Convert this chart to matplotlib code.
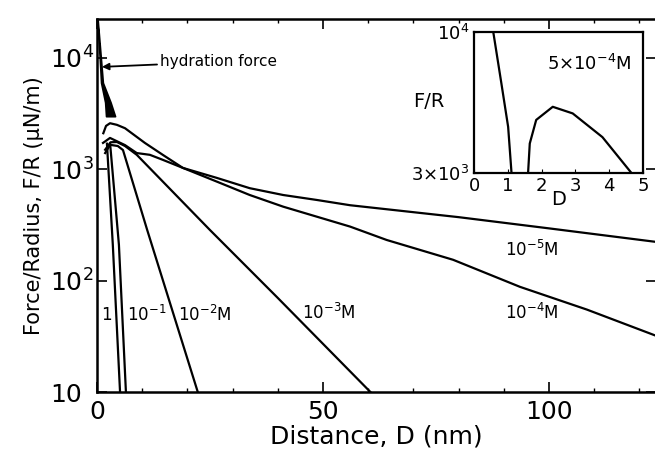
import numpy as np
import matplotlib
matplotlib.use("Agg")
import matplotlib.pyplot as plt
from matplotlib.ticker import FixedLocator, FixedFormatter, MultipleLocator, NullLocator

plt.rcParams['font.family'] = ['DejaVu Sans']
plt.rcParams['mathtext.default'] = 'regular'

# ---- data ----
# hydration force wedge (F values and left/right D edges)
hyd_F = [22000, 10000, 6000, 4000, 3000]
hyd_D_left = [0.05, 0.6, 0.9, 1.8, 2.0]
hyd_D_right = [0.15, 0.85, 1.3, 3.0, 4.0]

# DLVO curves, D in nm, F/R in uN/m
D_1M = [2.2, 3.5, 5.1]
F_1M = [1700, 210, 10]
D_1e1 = [2.9, 4.85, 6.4]
F_1e1 = [1700, 210, 10]
D_1e2 = [1.8, 2.9, 4.6, 5.75, 11.1, 22.3]
F_1e2 = [1400, 1660, 1620, 1490, 286, 10]
D_1e3 = [1.8, 3.0, 4.4, 6.2, 8.8, 25.0, 40.0, 60.5]
F_1e3 = [1500, 1750, 1760, 1620, 1350, 285, 70, 10]
D_1e4 = [1.33, 2.88, 6.2, 8.8, 11.7, 14.6, 19.0, 26.5, 33.8, 41.2, 48.6, 56.0,
         64.1, 78.8, 93.6, 108.4, 123.7]
F_1e4 = [1727, 1914, 1650, 1400, 1350, 1215, 1030, 776, 588, 462, 376, 306,
         232, 154, 88, 55, 32]
D_1e5 = [1.4, 2.0, 2.88, 4.4, 6.2, 10.6, 14.6, 19.0, 26.5, 33.8, 41.2, 48.6,
         56.0, 80.0, 100.0, 123.7]
F_1e5 = [2110, 2455, 2595, 2510, 2340, 1726, 1346, 1030, 838, 677, 588, 531,
         476, 372, 295, 223]

# inset, 5x10^-4 M
inset_D_a = [0.57, 0.81, 1.01, 1.11]
inset_F_a = [10000, 6450, 4450, 3000]
inset_D_b = [1.60, 1.65, 1.84, 2.33, 2.92, 3.80, 4.64]
inset_F_b = [3000, 3860, 4720, 5280, 4990, 4075, 3020]

y_ticks = [10, 100, 1000, 10000]
y_labels = ['10', '$10^2$', '$10^3$', '$10^4$']

# ---- figure ----
fig = plt.figure(figsize=(6.55, 4.59), dpi=100)
ax = fig.add_axes([97 / 655, 67 / 459, 559 / 655, 373 / 459])

lw = 1.6
ax.fill_betweenx(hyd_F, hyd_D_left, hyd_D_right, color='black', lw=1.2)
for d, f in [(D_1M, F_1M), (D_1e1, F_1e1), (D_1e2, F_1e2),
             (D_1e3, F_1e3), (D_1e4, F_1e4), (D_1e5, F_1e5)]:
    ax.plot(d, f, color='black', lw=lw)

ax.set_yscale('log')
ax.set_xlim(0, 123.7)
ax.set_ylim(10, 22400)
ax.yaxis.set_major_locator(FixedLocator(y_ticks))
ax.yaxis.set_major_formatter(FixedFormatter(y_labels))
ax.yaxis.set_minor_locator(NullLocator())
ax.xaxis.set_major_locator(MultipleLocator(50))
ax.xaxis.set_minor_locator(MultipleLocator(10))
ax.tick_params(which='both', direction='in', top=True, right=True)
ax.tick_params(which='major', length=7, width=1.2, labelsize=18, pad=6)
ax.tick_params(which='minor', length=3, width=1.0)
# y labels start flush on the left, like the original
ax.tick_params(axis='y', pad=34)
for lab in ax.get_yticklabels():
    lab.set_horizontalalignment('left')
for s in ax.spines.values():
    s.set_linewidth(1.8)

ax.set_xlabel('Distance, D (nm)', fontsize=18, labelpad=0)
ax.set_ylabel('Force/Radius, F/R (\u03bcN/m)', fontsize=15, labelpad=4)

# curve labels
fs = 12
ax.text(2.1, 49, '1', fontsize=fs, ha='center', va='center')
ax.text(6.6, 49, '$10^{-1}$', fontsize=fs, ha='left', va='center')
ax.text(17.9, 49, '$10^{-2}$M', fontsize=fs, ha='left', va='center')
ax.text(45.4, 51, '$10^{-3}$M', fontsize=fs, ha='left', va='center')
ax.text(90.3, 51, '$10^{-4}$M', fontsize=fs, ha='left', va='center')
ax.text(90.3, 189, '$10^{-5}$M', fontsize=fs, ha='left', va='center')

ax.annotate('hydration force', xy=(1.1, 8320), xytext=(13.9, 9230),
            fontsize=11, ha='left', va='center',
            arrowprops=dict(arrowstyle='-|>', color='black', lw=1.3,
                            mutation_scale=10, shrinkA=0, shrinkB=0))

# ---- inset ----
ins = fig.add_axes([474 / 655, 1 - 173 / 459, 169 / 655, 141 / 459])
ins.plot(inset_D_a, inset_F_a, color='black', lw=lw)
ins.plot(inset_D_b, inset_F_b, color='black', lw=lw)
ins.set_yscale('log')
ins.set_xlim(0, 5)
ins.set_ylim(3000, 10000)
ins.yaxis.set_major_locator(FixedLocator([3000, 10000]))
ins.yaxis.set_major_formatter(FixedFormatter([r'3$\times$10$^3$', '$10^4$']))
ins.yaxis.set_minor_locator(NullLocator())
ins.xaxis.set_major_locator(MultipleLocator(1))
ins.tick_params(direction='in', length=3, labelsize=13, pad=3)
for s in ins.spines.values():
    s.set_linewidth(1.6)
ins.set_xlabel('D', fontsize=14, labelpad=-4)
ins.text(-0.27, 0.51, 'F/R', transform=ins.transAxes, fontsize=14,
         ha='center', va='center')
ins.text(0.43, 0.77, r'5$\times$10$^{-4}$M', transform=ins.transAxes,
         fontsize=13, ha='left', va='center')

fig.savefig('out.png', dpi=100)
